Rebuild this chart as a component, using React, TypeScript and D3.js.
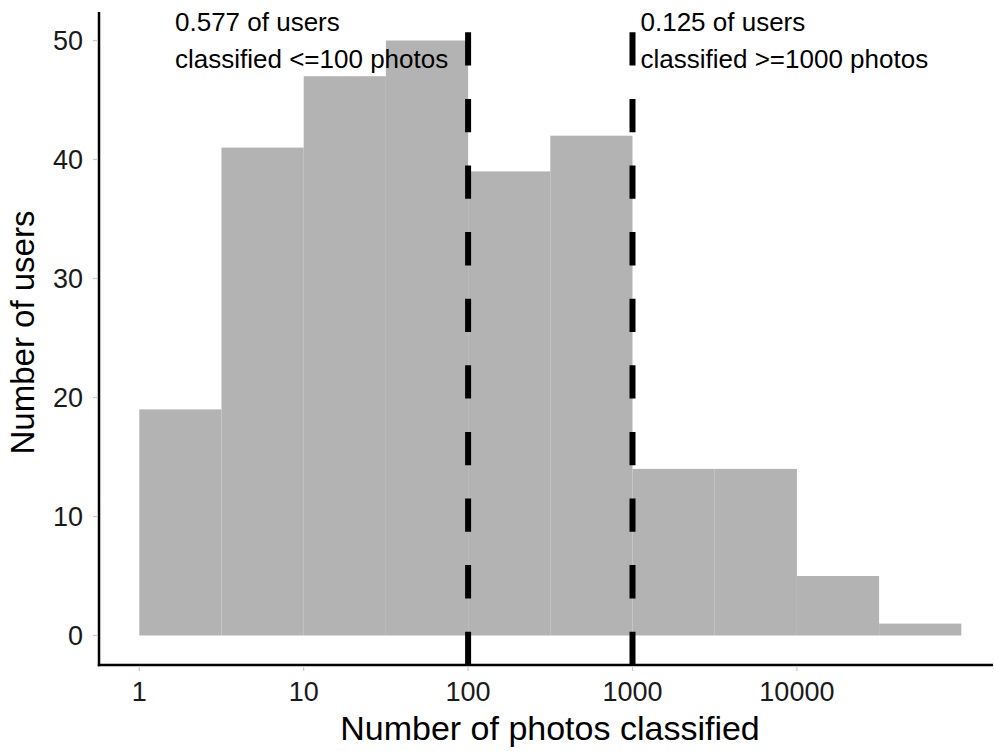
import React from "react";
import * as d3 from "d3";

const binStarts = [1, 3.1623, 10, 31.623, 100, 316.23, 1000, 3162.3, 10000, 31623];
const binEnds = [3.1623, 10, 31.623, 100, 316.23, 1000, 3162.3, 10000, 31623, 100000];
const counts = [19, 41, 47, 50, 39, 42, 14, 14, 5, 1];
const xTicks = [1, 10, 100, 1000, 10000];
const yTicks = [0, 10, 20, 30, 40, 50];
const vLines = [100, 1000];
const annotations = [
  { at: 1.7, lines: ["0.577 of users", "classified <=100 photos"] },
  { at: 1000, lines: ["0.125 of users", "classified >=1000 photos"] },
];

const W = 994;
const H = 751;
const FONT = "'Liberation Sans', Arial, Helvetica, sans-serif";

export default function App() {
  const x = d3.scaleLog().domain([1, 100000]).range([139.3, 961.3]);
  const y = d3.scaleLinear().domain([0, 50]).range([635.5, 40.5]);
  const axisX = 99;
  const axisY = 665;
  const panelTop = 12;

  return (
    <svg
      width={W}
      height={H}
      style={{ position: "absolute", left: 0, top: 0, background: "#fff" }}
      fontFamily={FONT}
    >
      {counts.map((c, i) => (
        <rect
          key={i}
          x={x(binStarts[i])}
          y={y(c)}
          width={x(binEnds[i]) - x(binStarts[i])}
          height={y(0) - y(c)}
          fill="#b3b3b3"
        />
      ))}

      {vLines.map((v, i) => (
        <line
          key={i}
          x1={x(v)}
          x2={x(v)}
          y1={axisY}
          y2={panelTop}
          stroke="#000"
          strokeWidth={6}
          strokeDasharray="33.3 33.3"
        />
      ))}

      {annotations.map((a, i) => (
        <text key={i} x={i === 0 ? 175 : x(a.at) + 8} fontSize={26} fill="#000">
          {a.lines.map((l, j) => (
            <tspan key={j} x={i === 0 ? 175 : x(a.at) + 8} y={31 + j * 37}>
              {l}
            </tspan>
          ))}
        </text>
      ))}

      {/* axes */}
      <line x1={axisX} x2={axisX} y1={panelTop} y2={axisY + 1.2} stroke="#000" strokeWidth={2.5} />
      <line x1={axisX - 1.2} x2={993} y1={axisY} y2={axisY} stroke="#000" strokeWidth={2.5} />

      {yTicks.map((t) => (
        <g key={t}>
          <line x1={axisX - 6} x2={axisX - 1} y1={y(t)} y2={y(t)} stroke="#c8c8c8" strokeWidth={1.2} />
          <text x={83} y={y(t)} dy="0.36em" textAnchor="end" fontSize={27} fill="#1a1a1a">
            {t}
          </text>
        </g>
      ))}

      {xTicks.map((t) => (
        <g key={t}>
          <line x1={x(t)} x2={x(t)} y1={axisY + 1} y2={axisY + 6} stroke="#c8c8c8" strokeWidth={1.2} />
          <text x={x(t)} y={701} textAnchor="middle" fontSize={27} fill="#1a1a1a">
            {d3.format("d")(t)}
          </text>
        </g>
      ))}

      <text x={550} y={740} textAnchor="middle" fontSize={34} fill="#000">
        Number of photos classified
      </text>
      <text
        transform={`translate(33.5,332.5) rotate(-90)`}
        textAnchor="middle"
        fontSize={33}
        fill="#000"
      >
        Number of users
      </text>
    </svg>
  );
}
